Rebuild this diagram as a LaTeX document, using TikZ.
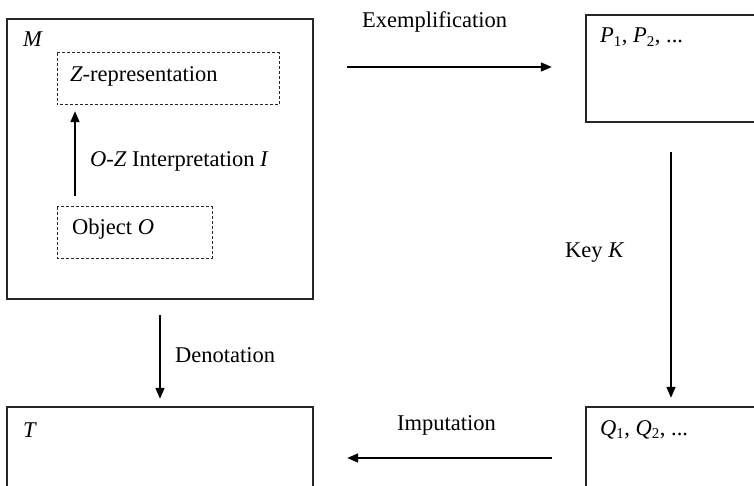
\documentclass[tikz,border=0pt]{standalone}
\usepackage{fontspec}
\setmainfont{Liberation Serif}
\usetikzlibrary{arrows.meta}
\tikzset{
  box/.style={draw=black!85, line width=1.3pt},
  dbox/.style={draw=black!85, line width=1pt, dash pattern=on 3pt off 2pt},
  txt/.style={anchor=base west, inner sep=0pt, font=\fontsize{22.5}{27}\selectfont},
  arr/.style={line width=1.6pt, -{Triangle[length=11pt,width=9pt]}},
  pt/.style={inner sep=0pt, minimum size=0pt}
}
\begin{document}
\begin{tikzpicture}[x=1pt,y=-1pt]
\useasboundingbox (0,0) rectangle (754,486);
\clip (0,0) rectangle (754,486);
% boxes
\draw[box] (7,19) rectangle (313,299);
\draw[dbox] (57,53) rectangle (279,105);
\draw[dbox] (57,207) rectangle (212,258);
\draw[box] (586,15) rectangle (770,122);
\draw[box] (586,407) rectangle (770,500);
\draw[box] (7,407) rectangle (313,500);
% anchor points
\node[pt] (zr) at (75,111) {};
\node[pt] (ob) at (75,196) {};
\node[pt] (m1) at (347,67) {};
\node[pt] (p1) at (552,67) {};
\node[pt] (p2) at (671,152) {};
\node[pt] (q1) at (671,398) {};
\node[pt] (q2) at (552,458) {};
\node[pt] (t2) at (347,458) {};
\node[pt] (m2) at (160,315) {};
\node[pt] (t1) at (160,399) {};
% labels
\node[txt] (lM) at (23,47) {\itshape M};
\node[txt] (lZ) at (70,82) {\itshape Z\upshape -representation};
\node[txt] (lOZ) at (90,167) {\itshape O\upshape -\itshape Z\upshape{} Interpretation \itshape I};
\node[txt] (lO) at (72,235) {Object \itshape O};
\node[txt] (lP) at (600,43) {\itshape P\upshape\textsubscript{\fontsize{15}{15}\selectfont 1}, \itshape P\upshape\textsubscript{\fontsize{15}{15}\selectfont 2}, ...};
\node[txt] (lQ) at (600,435) {\itshape Q\upshape\textsubscript{\fontsize{15}{15}\selectfont 1}, \itshape Q\upshape\textsubscript{\fontsize{15}{15}\selectfont 2}, ...};
\node[txt] (lT) at (23,437) {\itshape T};
\node[txt] (lE) at (362,28) {Exemplification};
\node[txt] (lK) at (565,258) {Key \itshape K};
\node[txt] (lD) at (175,362) {Denotation};
\node[txt] (lI) at (397,430) {Imputation};
% arrows
\draw[arr] (ob) -- (zr);
\draw[arr] (m1) -- (p1);
\draw[arr] (p2) -- (q1);
\draw[arr] (q2) -- (t2);
\draw[arr] (m2) -- (t1);
\end{tikzpicture}
\end{document}
